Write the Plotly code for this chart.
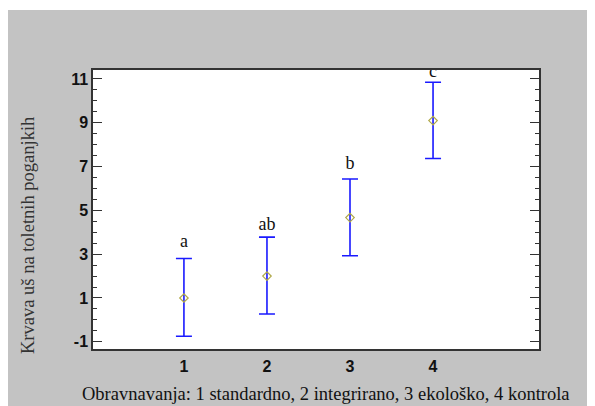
import plotly.graph_objects as go

treatments = [1, 2, 3, 4]
means = [1.0, 2.0, 4.67, 9.1]
lows = [-0.75, 0.27, 2.93, 7.37]
highs = [2.8, 3.78, 6.43, 10.85]
letters = ["a", "ab", "b", "c"]
letter_y = [3.55, 4.3, 7.1, 11.3]
y_ticks = [-1, 1, 3, 5, 7, 9, 11]
y_ticktext = ["-1", "1", "3", "5", "7", "9", "11"]
x_ticks = [1, 2, 3, 4]

# figure is placed by the page at (8, 8); coordinates below are figure pixels
W, H = 587, 398
L, R, T, B = 85, 531, 62, 341

err_plus = [h - m for h, m in zip(highs, means)]
err_minus = [m - l for m, l in zip(means, lows)]

fig = go.Figure()
fig.add_trace(go.Scatter(
    x=treatments, y=means, mode="markers",
    marker=dict(symbol="diamond-open", size=6.5, color="#B0A848", line=dict(width=1.2)),
    error_y=dict(type="data", symmetric=False, array=err_plus, arrayminus=err_minus,
                 color="#1a1aff", thickness=1.6, width=8),
    showlegend=False,
))
fig.add_trace(go.Scatter(
    x=treatments, y=letter_y, mode="text", text=letters, textposition="middle center",
    textfont=dict(family="Liberation Serif", size=18, color="#111"),
    cliponaxis=True, showlegend=False, hoverinfo="skip",
))

pw, ph = R - L, B - T
def px(xp):
    return (xp - L) / pw
def py(yp):
    return (B - yp) / ph

# thin white strip at the very top
fig.add_shape(type="rect", xref="paper", yref="paper", x0=px(-5), x1=px(W + 5), y0=py(2), y1=py(-5),
              fillcolor="white", line=dict(width=0), layer="below")

fig.add_annotation(xref="paper", yref="paper", x=px(318), y=py(386),
                   text="Obravnavanja: 1 standardno, 2 integrirano, 3 ekološko, 4 kontrola",
                   showarrow=False, xanchor="center", yanchor="middle",
                   font=dict(family="Liberation Serif", size=18.5, color="#111"))
fig.add_annotation(xref="paper", yref="paper", x=px(20), y=py(228), text="Krvava uš na toletnih poganjkih",
                   showarrow=False, textangle=-90, xanchor="center", yanchor="middle",
                   font=dict(family="Liberation Serif", size=18.5, color="#333"))

fig.update_layout(
    width=W, height=H,
    margin=dict(l=L, r=W - R, t=T, b=H - B),
    paper_bgcolor="#C3C3C3", plot_bgcolor="white",
    xaxis=dict(range=[-0.095, 5.276], tickvals=x_ticks, ticktext=[str(v) for v in x_ticks],
               showgrid=False, zeroline=False, showline=True, mirror=True,
               linecolor="#333", linewidth=1.5, ticks="", ticklabelstandoff=2,
               tickfont=dict(family="Arial", size=16, color="#111", weight="bold")),
    yaxis=dict(range=[-1.33, 11.41], tickvals=y_ticks, ticktext=y_ticktext, showgrid=False, zeroline=False,
               showline=True, mirror="allticks", linecolor="#333", linewidth=1.5,
               ticks="inside", ticklen=9, tickwidth=1.2, tickcolor="#333",
               minor=dict(dtick=0.5, ticks="inside", ticklen=4, tickwidth=1.2, tickcolor="#333"),
               tickfont=dict(family="Arial", size=16, color="#111", weight="bold")),
)

fig.write_html("out.html")
